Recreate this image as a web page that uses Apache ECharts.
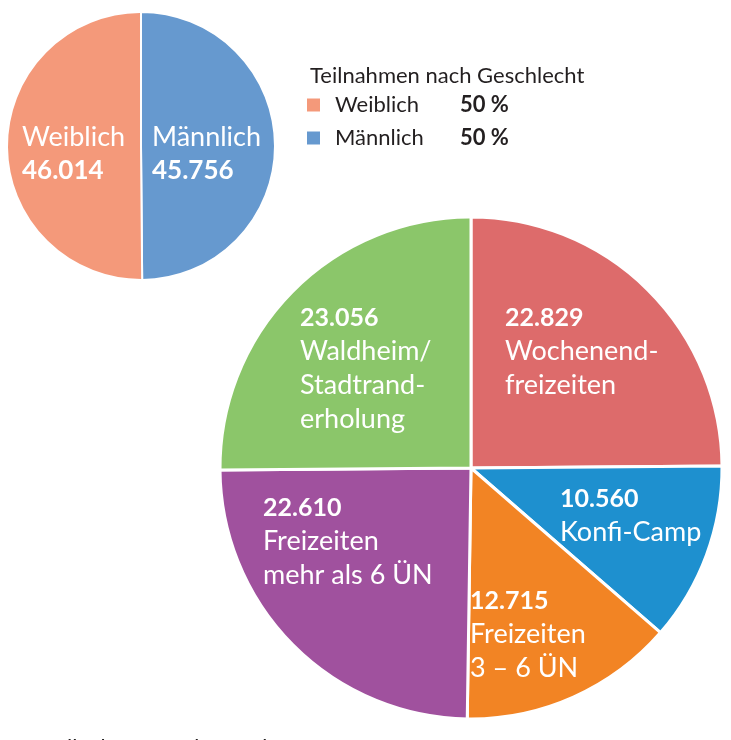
<!DOCTYPE html>
<html>
<head>
    <meta charset="utf-8">
    <title>Teilnahmen</title>
    <script src="https://cdn.jsdelivr.net/npm/echarts@6/dist/echarts.min.js"></script>
    <style>
        html, body { margin: 0; padding: 0; background: #fff; }
        #main { width: 731px; height: 740px; }
    </style>
</head>
<body>
    <div id="main"></div>
    <script type="text/javascript">
        // Teilnahmen nach Geschlecht
        var genderNames = ['Männlich', 'Weiblich'];
        var genderValues = [45756, 46014];
        var genderColors = ['#6699cf', '#f4997a'];

        // Teilnahmen nach Angebot
        var offerNames = ['Wochenend-\nfreizeiten', 'Konfi-Camp', 'Freizeiten\n3 – 6 ÜN', 'Freizeiten\nmehr als 6 ÜN', 'Waldheim/\nStadtrand-\nerholung'];
        var offerValues = [22829, 10560, 12715, 22610, 23056];
        var offerColors = ['#dd6b6b', '#1e90cf', '#f28424', '#a0519e', '#8bc66a'];

        // label anchor points (top-left of each label block)
        var genderLabelPos = [[152, 121], [22, 121]];
        var offerLabelPos = [[505, 302], [560, 483], [470, 585], [263, 492], [300, 302]];

        var font = 'Lato, "Open Sans", sans-serif';

        function fmt(v) {
            return String(v).replace(/\B(?=(\d{3})+(?!\d))/g, '.');
        }
        function labelText(name, value, numFirst) {
            var lines = name.split('\n').map(function (l) { return '{t|' + l + '}'; });
            var num = '{v|' + fmt(value) + '}';
            return numFirst ? [num].concat(lines).join('\n') : lines.concat([num]).join('\n');
        }

        var genderTotal = genderValues.reduce(function (a, b) { return a + b; }, 0);

        var myChart = echarts.init(document.getElementById('main'));
        var option = {
            animation: false,
            title: [{
                text: 'Teilnahmen nach Geschlecht',
                left: 305,
                top: 60,
                textStyle: { fontFamily: font, fontSize: 22, fontWeight: 'normal', color: '#231f20' }
            }, {
                text: 'Teilnahmen nach Angebot',
                left: 40,
                top: 732,
                textStyle: { fontFamily: font, fontSize: 22, fontWeight: 'normal', color: '#231f20' }
            }],
            legend: {
                data: ['Weiblich', 'Männlich'],
                orient: 'vertical',
                left: 300,
                top: 89,
                itemWidth: 15,
                itemHeight: 15,
                itemGap: 11,
                icon: 'rect',
                selectedMode: false,
                formatter: function (name) {
                    var v = genderValues[genderNames.indexOf(name)];
                    return '{g|}{n|' + name + '}{p|' + Math.round(v / genderTotal * 100) + ' %}';
                },
                textStyle: {
                    fontFamily: font,
                    color: '#231f20',
                    rich: {
                        g: { width: 9 },
                        n: { fontFamily: font, fontSize: 22, color: '#231f20', width: 125, lineHeight: 21 },
                        p: { fontFamily: font, fontSize: 22, color: '#231f20', fontWeight: 'bold', lineHeight: 21 }
                    }
                }
            },
            series: [{
                type: 'pie',
                center: [141, 146],
                radius: 134,
                startAngle: 90,
                clockwise: true,
                silent: true,
                emphasis: { disabled: true },
                itemStyle: { borderColor: '#fff', borderWidth: 2 },
                data: genderNames.map(function (n, i) {
                    return { name: n, value: genderValues[i], itemStyle: { color: genderColors[i] } };
                }),
                label: {
                    show: true,
                    position: 'inside',
                    formatter: function (p) { return labelText(p.name, p.value, false); },
                    rich: {
                        t: { fontFamily: font, fontSize: 27, color: '#fff', lineHeight: 33 },
                        v: { fontFamily: font, fontSize: 26, color: '#fff', fontWeight: 'bold', lineHeight: 33 }
                    }
                },
                labelLayout: function (p) {
                    var pos = genderLabelPos[p.dataIndex];
                    return { x: pos[0], y: pos[1], align: 'left', verticalAlign: 'top' };
                }
            }, {
                type: 'pie',
                center: [471, 468],
                radius: 251,
                startAngle: 90,
                clockwise: true,
                silent: true,
                emphasis: { disabled: true },
                itemStyle: { borderColor: '#fff', borderWidth: 3 },
                data: offerNames.map(function (n, i) {
                    return { name: n, value: offerValues[i], itemStyle: { color: offerColors[i] } };
                }),
                label: {
                    show: true,
                    position: 'inside',
                    formatter: function (p) { return labelText(p.name, p.value, true); },
                    rich: {
                        t: { fontFamily: font, fontSize: 27, color: '#fff', lineHeight: 34 },
                        v: { fontFamily: font, fontSize: 25, color: '#fff', fontWeight: 'bold', lineHeight: 32 }
                    }
                },
                labelLayout: function (p) {
                    var pos = offerLabelPos[p.dataIndex];
                    return { x: pos[0], y: pos[1], align: 'left', verticalAlign: 'top' };
                }
            }]
        };
        myChart.setOption(option);
    </script>
</body>
</html>
